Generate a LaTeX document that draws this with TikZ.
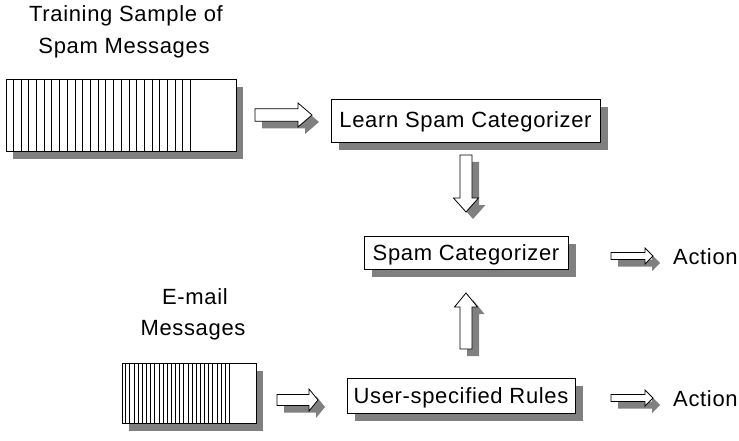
\documentclass[tikz,border=0pt]{standalone}
\usepackage{fontspec}
\setmainfont{Liberation Sans}[LetterSpace=3]
\usetikzlibrary{shadows}
\newcommand\lbl{\fontsize{22}{26}\selectfont}
% horizontal block arrow path: tail x, head-base x, tip x, centre y, shaft half, head half
\newcommand\hpath[6]{(#1,#4-#5) -- (#2,#4-#5) -- (#2,#4-#6) -- (#3,#4) -- (#2,#4+#6) -- (#2,#4+#5) -- (#1,#4+#5) -- cycle}
% vertical block arrow path: centre x, tail y, head-base y, tip y, shaft half, head half
\newcommand\vpath[6]{(#1-#5,#2) -- (#1-#5,#3) -- (#1-#6,#3) -- (#1,#4) -- (#1+#6,#3) -- (#1+#5,#3) -- (#1+#5,#2) -- cycle}
\newcommand\harrow[6]{\fill[shadowc,shift={(7,7)}] \hpath{#1}{#2}{#3}{#4}{#5}{#6}; \draw[arrowline] \hpath{#1}{#2}{#3}{#4}{#5}{#6};}
\newcommand\varrow[6]{\fill[shadowc,shift={(7,7)}] \vpath{#1}{#2}{#3}{#4}{#5}{#6}; \draw[arrowline] \vpath{#1}{#2}{#3}{#4}{#5}{#6};}
\begin{document}
\begin{tikzpicture}[x=1pt,y=-1pt,
  shadowc/.style={fill=black!50},
  arrowline/.style={draw=black, line width=0.8pt, fill=white, line join=miter},
  box/.style={draw=black, line width=0.9pt, fill=white, inner sep=0pt,
    text height=15pt, text depth=0pt, font=\lbl,
    drop shadow={shadow xshift=8pt, shadow yshift=-8pt, fill=black!50, opacity=1}},
  stack/.style={draw=black, line width=0.9pt, fill=white, inner sep=0pt,
    drop shadow={shadow xshift=7pt, shadow yshift=-8pt, fill=black!50, opacity=1}},
  stripe/.style={line width=0.8pt},
  lbl/.style={inner sep=0pt, anchor=base, font=\lbl}]
\useasboundingbox (0,0) rectangle (739,441);

% titles
\node[lbl] (t1) at (126,22) {Training Sample of};
\node[lbl] (t2) at (124,54) {Spam Messages};
\node[lbl] (e1) at (195,304) {E-mail};
\node[lbl] (e2) at (193,335) {Messages};

% message stacks
\node[stack, minimum width=230pt, minimum height=72pt] (stack1) at (121,115) {};
\foreach \k in {1,...,24}
  \draw[stripe] ([xshift=\k*7.71pt]stack1.north west) -- ([xshift=\k*7.71pt]stack1.south west);
\node[stack, minimum width=134pt, minimum height=60pt] (stack2) at (189,393) {};
\foreach \k in {1,...,26}
  \draw[stripe] ([xshift=\k*4.15pt]stack2.north west) -- ([xshift=\k*4.15pt]stack2.south west);

% boxes
\node[box, minimum width=269pt, minimum height=43pt] (learn) at (465.5,120.5) {Learn Spam Categorizer};
\node[box, minimum width=204pt, minimum height=33pt] (cat) at (466,252.5) {Spam Categorizer};
\node[box, minimum width=228pt, minimum height=35pt] (rules) at (461,395.5) {User-specified Rules};

% actions
\node[lbl, anchor=base west] (act1) at (673,264) {Action};
\node[lbl, anchor=base west] (act2) at (673,406) {Action};

% block arrows
\harrow{255}{298}{312}{115}{6.3}{12}
\varrow{466}{155}{198}{212}{6}{12.5}
\varrow{466}{349}{307}{293}{6}{11.5}
\harrow{277}{309}{318}{400}{5.5}{11}
\harrow{611}{645}{653}{256}{3.5}{8}
\harrow{611}{645}{653}{398}{3.5}{8}
\end{tikzpicture}
\end{document}
